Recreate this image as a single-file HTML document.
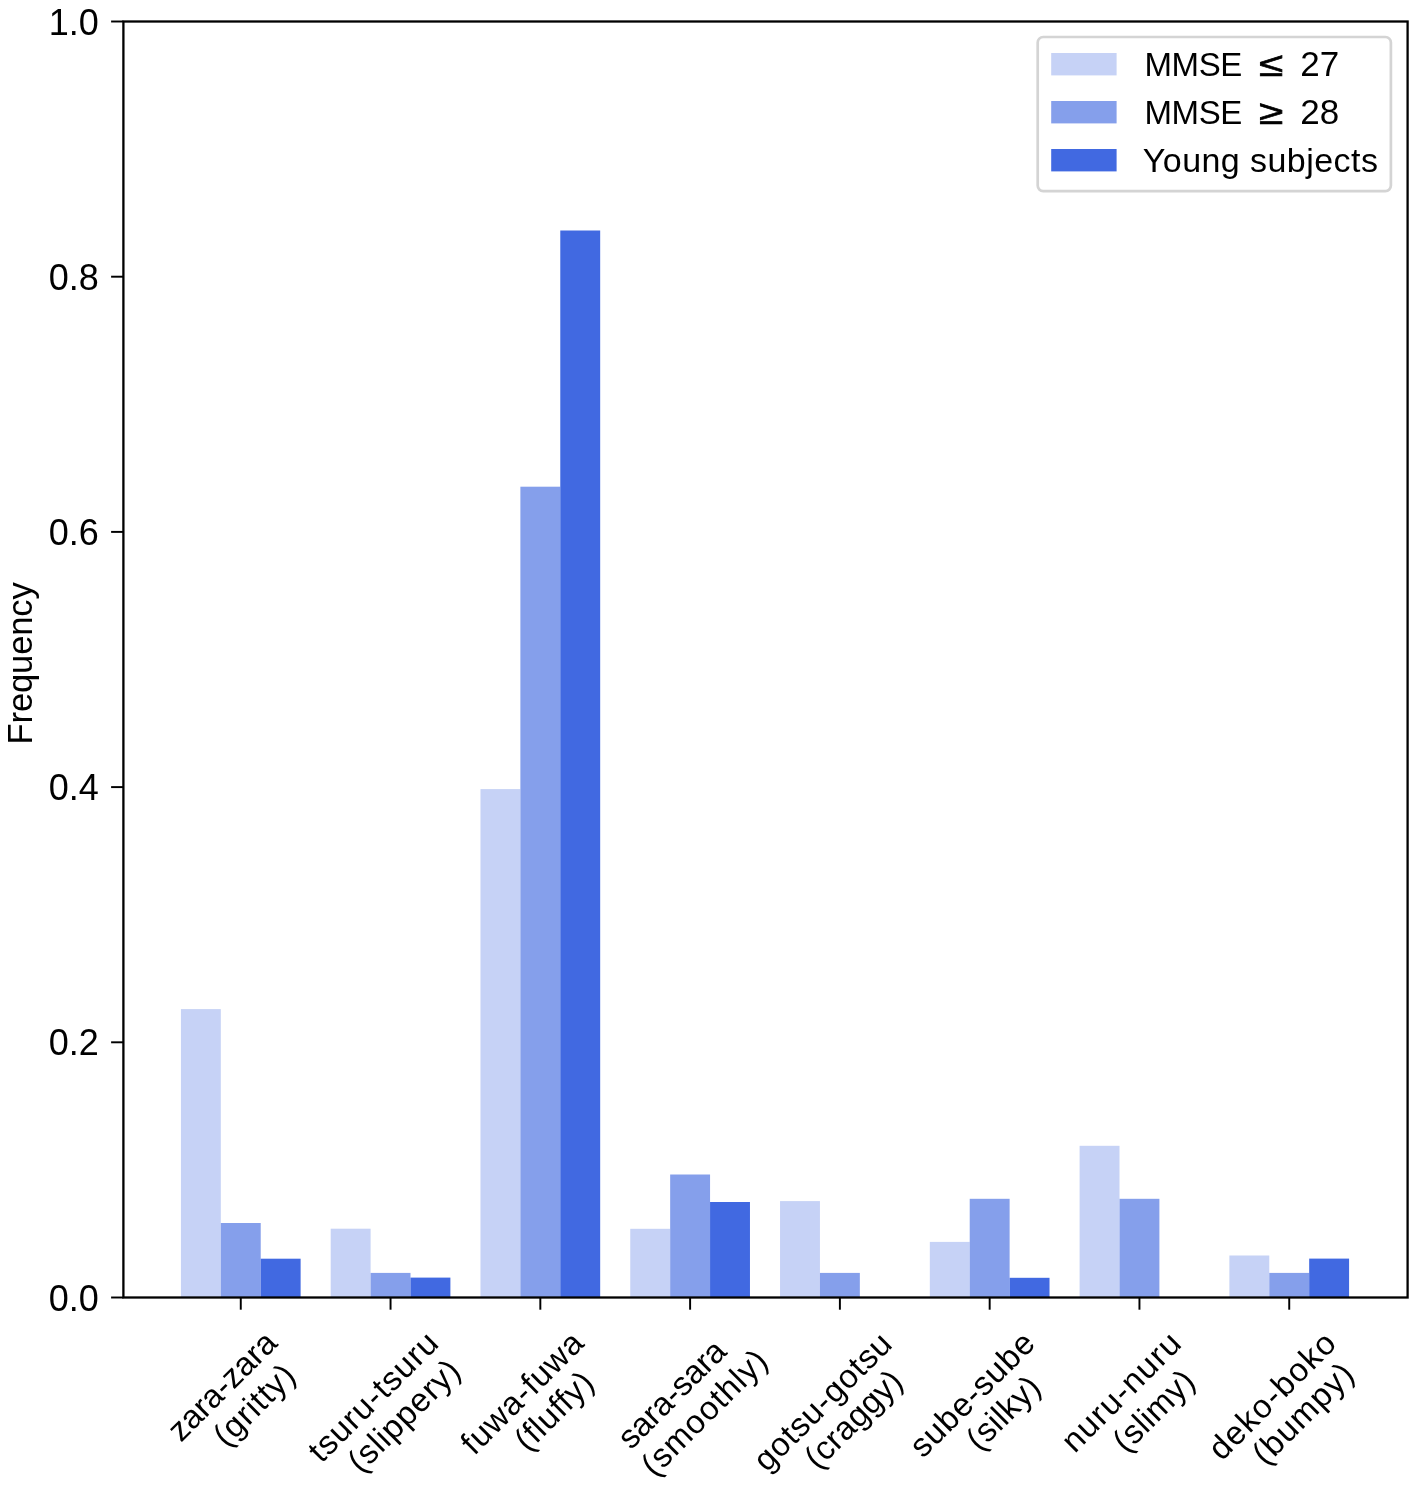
<!DOCTYPE html>
<html lang="en">
<head>
<meta charset="utf-8">
<title>Frequency of onomatopoeia by group</title>
<style>
html,body{margin:0;padding:0;background:#fff;}
body{width:1418px;height:1488px;overflow:hidden;}
svg{display:block;will-change:transform;}
svg text{font-family:'Liberation Sans', 'Noto Sans CJK JP', sans-serif;fill:#000;}
</style>
</head>
<body>
<svg width="1418" height="1488" viewBox="0 0 1418 1488">
<rect x="0" y="0" width="1418" height="1488" fill="#ffffff"/>
<g id="bars">
<rect x="180.92" y="1009.10" width="39.90" height="288.40" fill="#c6d2f6"/>
<rect x="220.82" y="1223.00" width="39.90" height="74.50" fill="#859feb"/>
<rect x="260.72" y="1258.70" width="39.90" height="38.80" fill="#4169e1"/>
<rect x="330.70" y="1228.70" width="39.90" height="68.80" fill="#c6d2f6"/>
<rect x="370.60" y="1272.90" width="39.90" height="24.60" fill="#859feb"/>
<rect x="410.50" y="1277.60" width="39.90" height="19.90" fill="#4169e1"/>
<rect x="480.48" y="789.10" width="39.90" height="508.40" fill="#c6d2f6"/>
<rect x="520.38" y="486.70" width="39.90" height="810.80" fill="#859feb"/>
<rect x="560.28" y="230.50" width="39.90" height="1067.00" fill="#4169e1"/>
<rect x="630.26" y="1228.80" width="39.90" height="68.70" fill="#c6d2f6"/>
<rect x="670.16" y="1174.50" width="39.90" height="123.00" fill="#859feb"/>
<rect x="710.06" y="1202.00" width="39.90" height="95.50" fill="#4169e1"/>
<rect x="780.04" y="1201.10" width="39.90" height="96.40" fill="#c6d2f6"/>
<rect x="819.94" y="1272.90" width="39.90" height="24.60" fill="#859feb"/>
<rect x="929.82" y="1241.90" width="39.90" height="55.60" fill="#c6d2f6"/>
<rect x="969.72" y="1198.80" width="39.90" height="98.70" fill="#859feb"/>
<rect x="1009.62" y="1277.80" width="39.90" height="19.70" fill="#4169e1"/>
<rect x="1079.60" y="1145.80" width="39.90" height="151.70" fill="#c6d2f6"/>
<rect x="1119.50" y="1198.80" width="39.90" height="98.70" fill="#859feb"/>
<rect x="1229.38" y="1255.50" width="39.90" height="42.00" fill="#c6d2f6"/>
<rect x="1269.28" y="1272.90" width="39.90" height="24.60" fill="#859feb"/>
<rect x="1309.18" y="1258.60" width="39.90" height="38.90" fill="#4169e1"/>
</g>
<rect id="axes-frame" x="123.40" y="21.50" width="1284.20" height="1276.00" fill="none" stroke="#000" stroke-width="2.30" stroke-linejoin="miter"/>
<g id="ticks" stroke="#000" stroke-width="1.95">
<line x1="111.10" y1="1297.50" x2="123.40" y2="1297.50"/>
<line x1="111.10" y1="1042.30" x2="123.40" y2="1042.30"/>
<line x1="111.10" y1="787.10" x2="123.40" y2="787.10"/>
<line x1="111.10" y1="531.90" x2="123.40" y2="531.90"/>
<line x1="111.10" y1="276.70" x2="123.40" y2="276.70"/>
<line x1="111.10" y1="21.50" x2="123.40" y2="21.50"/>
<line x1="240.77" y1="1297.50" x2="240.77" y2="1309.70"/>
<line x1="390.55" y1="1297.50" x2="390.55" y2="1309.70"/>
<line x1="540.33" y1="1297.50" x2="540.33" y2="1309.70"/>
<line x1="690.11" y1="1297.50" x2="690.11" y2="1309.70"/>
<line x1="839.89" y1="1297.50" x2="839.89" y2="1309.70"/>
<line x1="989.67" y1="1297.50" x2="989.67" y2="1309.70"/>
<line x1="1139.45" y1="1297.50" x2="1139.45" y2="1309.70"/>
<line x1="1289.23" y1="1297.50" x2="1289.23" y2="1309.70"/>
</g>
<g id="y-tick-labels" font-size="36.00" text-anchor="end">
<text x="98.80" y="1310.50">0.0</text>
<text x="98.80" y="1055.30">0.2</text>
<text x="98.80" y="800.10">0.4</text>
<text x="98.80" y="544.90">0.6</text>
<text x="98.80" y="289.70">0.8</text>
<text x="98.80" y="34.50">1.0</text>
</g>
<text id="y-axis-label" font-size="34.60" text-anchor="middle" transform="translate(31.60 663.40) rotate(-90)" letter-spacing="-0.15">Frequency</text>
<g id="x-tick-labels">
<text class="xl" font-size="33.00" text-anchor="middle" letter-spacing="-0.08" transform="translate(229.90 1393.95) rotate(-45)">zara-zara</text>
<text class="xl" font-size="33.00" text-anchor="middle" letter-spacing="0.95" transform="translate(262.13 1412.62) rotate(-45)">(gritty)</text>
<text class="xl" font-size="33.00" text-anchor="middle" letter-spacing="1.02" transform="translate(381.20 1404.35) rotate(-45)">tsuru-tsuru</text>
<text class="xl" font-size="33.00" text-anchor="middle" letter-spacing="0.85" transform="translate(411.93 1423.27) rotate(-45)">(slippery)</text>
<text class="xl" font-size="33.00" text-anchor="middle" letter-spacing="0.84" transform="translate(530.20 1400.30) rotate(-45)">fuwa-fuwa</text>
<text class="xl" font-size="33.00" text-anchor="middle" letter-spacing="0.73" transform="translate(561.93 1418.47) rotate(-45)">(fluffy)</text>
<text class="xl" font-size="33.00" text-anchor="middle" letter-spacing="-0.24" transform="translate(679.55 1401.90) rotate(-45)">sara-sara</text>
<text class="xl" font-size="33.00" text-anchor="middle" letter-spacing="0.95" transform="translate(712.28 1420.07) rotate(-45)">(smoothly)</text>
<text class="xl" font-size="33.00" text-anchor="middle" letter-spacing="0.73" transform="translate(830.50 1409.25) rotate(-45)">gotsu-gotsu</text>
<text class="xl" font-size="33.00" text-anchor="middle" letter-spacing="0.27" transform="translate(861.23 1426.92) rotate(-45)">(craggy)</text>
<text class="xl" font-size="33.00" text-anchor="middle" letter-spacing="0.84" transform="translate(980.15 1401.90) rotate(-45)">sube-sube</text>
<text class="xl" font-size="33.00" text-anchor="middle" letter-spacing="0.48" transform="translate(1011.13 1420.57) rotate(-45)">(silky)</text>
<text class="xl" font-size="33.00" text-anchor="middle" letter-spacing="1.27" transform="translate(1129.35 1399.35) rotate(-45)">nuru-nuru</text>
<text class="xl" font-size="33.00" text-anchor="middle" letter-spacing="0.48" transform="translate(1161.58 1418.52) rotate(-45)">(slimy)</text>
<text class="xl" font-size="33.00" text-anchor="middle" letter-spacing="1.31" transform="translate(1280.30 1403.15) rotate(-45)">deko-boko</text>
<text class="xl" font-size="33.00" text-anchor="middle" letter-spacing="1.11" transform="translate(1311.03 1421.07) rotate(-45)">(bumpy)</text>
</g>
<g id="legend">
<rect x="1037.7" y="37.0" width="353.2" height="154.1" rx="5.5" ry="5.5" fill="#ffffff" fill-opacity="0.8" stroke="#d4d4d4" stroke-width="2.7"/>
<rect x="1051.2" y="53.00" width="65.4" height="22.4" fill="#c6d2f6"/>
<rect x="1051.2" y="101.00" width="65.4" height="22.4" fill="#859feb"/>
<rect x="1051.2" y="149.00" width="65.4" height="22.4" fill="#4169e1"/>
<text class="lg" font-size="33.00" letter-spacing="-0.40" x="1144.50" y="76.30">MMSE</text>
<text class="lg" font-size="34.00" text-anchor="middle" stroke="#000" stroke-width="0.7" transform="translate(1271.10 76.30) scale(1.300 1)">≤</text>
<text class="lg" font-size="35.00" x="1300.20" y="76.30">27</text>
<text class="lg" font-size="33.00" letter-spacing="-0.40" x="1144.50" y="124.30">MMSE</text>
<text class="lg" font-size="34.00" text-anchor="middle" stroke="#000" stroke-width="0.7" transform="translate(1271.10 124.30) scale(1.300 1)">≥</text>
<text class="lg" font-size="35.00" x="1300.20" y="124.30">28</text>
<text class="lg" font-size="34.00" x="1142.80" y="172.4" letter-spacing="0.44">Young subjects</text>
</g>
</svg>
</body>
</html>
